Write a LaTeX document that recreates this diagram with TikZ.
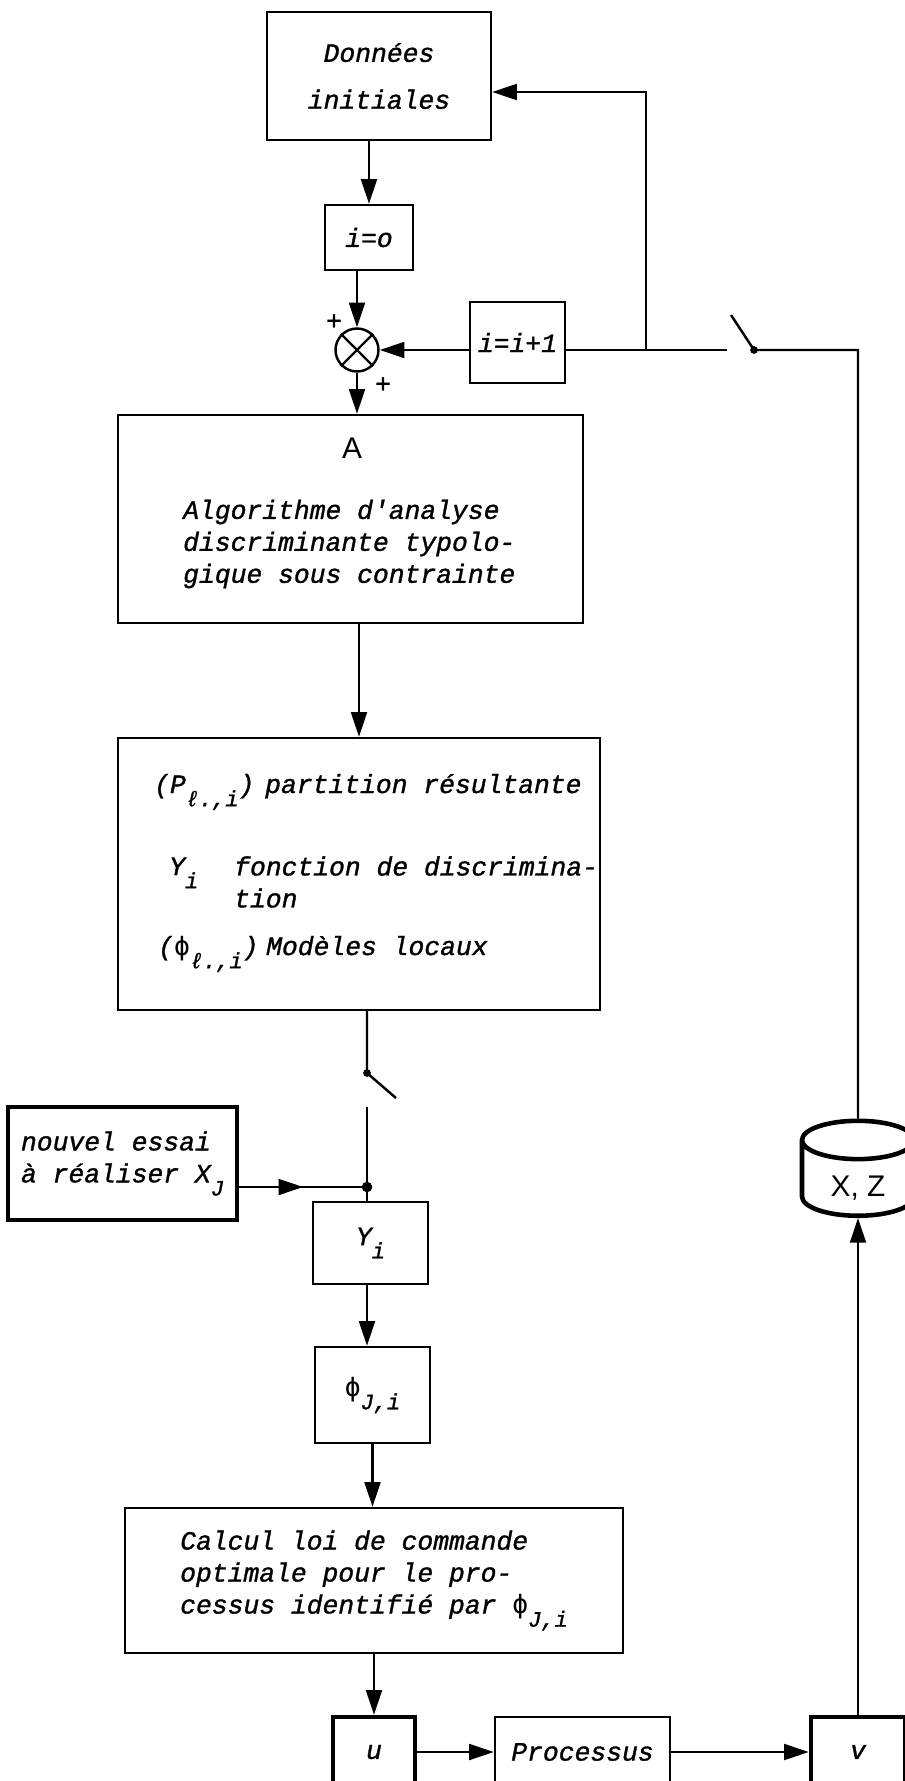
\documentclass[tikz,border=0pt]{standalone}
\usepackage{fontspec}
\setmonofont{Liberation Mono}[ItalicFeatures={FakeBold=1.2}]
\newfontfamily\lsans{Liberation Sans}
\newfontfamily\dvmono{DejaVu Sans Mono}
\usetikzlibrary{
  arrows.meta,
  shapes.geometric,
  decorations.markings
}
\newcommand\boxfont{\fontsize{15}{18.2}\selectfont\ttfamily\itshape}
\newcommand\lowidx[1]{\raisebox{-0.5em}{\fontsize{12.5}{14}\selectfont#1}}
\newcommand\phisym{{\dvmono\upshape ϕ}}
\tikzset{
  >={Triangle[length=14pt,width=9pt]},
  line cap=round,
  every picture/.style={line width=1.4pt},
  box/.style={draw, align=center, inner sep=0pt, font=\boxfont},
  heavybox/.style={box, line width=2.6pt},
  txt/.style={inner sep=0pt, align=left, font=\boxfont},
  signlabel/.style={inner sep=0pt, font=\fontsize{15}{18}\selectfont\ttfamily\itshape},
  sanslabel/.style={inner sep=0pt, font=\lsans\fontsize{17}{20}\selectfont},
  arrow/.style={->},
  midarrow/.style={postaction={decorate},
    decoration={markings, mark=at position 0.5 with {\arrow{>}}}}
}

\begin{document}
\begin{tikzpicture}[x=0.02cm, y=-0.02cm]
\useasboundingbox (0,0) rectangle (905,1781);

% initialisation
\node[box, minimum width=4.48cm, minimum height=2.56cm] (donnees) at (379,76) {Données\\[8.5pt]initiales};
\node[box, minimum width=1.76cm, minimum height=1.30cm] (io) at (369,237.5) {i=o};
\node[circle, draw, minimum size=0.86cm, inner sep=0pt] (sum) at (357,350) {};
\draw (sum.north east) -- (sum.south west) (sum.north west) -- (sum.south east);
\node[box, minimum width=1.90cm, minimum height=1.62cm] (incr) at (517.5,342.5) {i=i+1};
\node[signlabel] (plusA) at (334,322) {+};
\node[signlabel] (plusB) at (383,385) {+};

% algorithme A
\node[box, minimum width=9.30cm, minimum height=4.16cm] (algo) at (350.5,519) {};
\node[sanslabel] (algoA) at (352,448) {A};
\node[txt, anchor=west] (algotxt) at (182,544) {Algorithme d'analyse\\discriminante typolo-\\gique sous contrainte};

% resultats
\node[box, minimum width=9.64cm, minimum height=5.44cm] (res) at (359,874) {};
\node[txt, anchor=base west] (pl) at (153,793) {(P\lowidx{ℓ.,i})};
\node[txt, anchor=base west] (pltxt) at (264,793) {partition résultante};
\node[txt, anchor=base west] (yl) at (168,875) {Y\lowidx{i}};
\node[txt, anchor=west] (yltxt) at (233,882) {fonction de discrimina-\\tion};
\node[txt, anchor=base west] (phil) at (157,955) {(\phisym\lowidx{ℓ.,i})};
\node[txt, anchor=base west] (philtxt) at (265,955) {Modèles locaux};

% nouvel essai et commande
\node[heavybox, align=left, minimum width=4.58cm, minimum height=2.26cm] (essai) at (122.5,1163.5) {nouvel essai\\à réaliser X\lowidx{J}};
\node[box, minimum width=2.30cm, minimum height=1.64cm] (discr) at (370.5,1243) {Y\lowidx{i}};
\node[box, minimum width=2.30cm, minimum height=1.92cm] (model) at (372.5,1395) {\phisym\lowidx{J,i}};
\node[box, align=left, minimum width=9.96cm, minimum height=2.90cm] (cmd) at (374,1580.5) {Calcul loi de commande\\optimale pour le pro-\\cessus identifié par \phisym\lowidx{J,i}};

% processus
\node[heavybox, minimum width=1.64cm, minimum height=1.40cm] (u) at (374,1752) {u};
\node[box, minimum width=3.50cm, minimum height=1.40cm] (proc) at (582.5,1752) {Processus};
\node[heavybox, minimum width=1.88cm, minimum height=1.40cm] (v) at (858,1752) {v};
\node[cylinder, shape border rotate=90, draw, line width=2.6pt, aspect=0.7,
  minimum width=2.24cm, minimum height=1.9cm, inner sep=0pt,
  sanslabel] (base) at (858,1179) {\raisebox{-0.6em}[0pt][0pt]{X, Z}};

% interrupteurs et jonctions
\coordinate (swA) at (754,350);
\coordinate (swAend) at (731,315);
\coordinate (swAin) at (727,350);
\coordinate (fbk) at (646,350);
\coordinate (fbtop) at (646,92);
\coordinate (swB) at (367,1073);
\coordinate (swBend) at (396,1098);
\coordinate (swBout) at (367,1107);
\coordinate (jct) at (367,1187);

% liaisons
\draw[arrow] (donnees.south -| io.north) -- (io.north);
\draw[arrow] (io.south -| sum.north) -- (sum.north);
\draw[arrow] (incr.west |- sum.east) -- (sum.east);
\draw[arrow] (sum.south) -- (sum.south |- algo.north);
\draw[arrow] (algo.south -| res.north) -- (res.north);
\draw (res.south -| swB) -- (swB) -- (swBend);
\fill (swB) circle (2.2pt);
\draw (swBout) -- (jct) -- (jct |- discr.north);
\fill (jct) circle (3pt);
\draw[midarrow] (essai.east |- jct) -- (jct);
\draw[arrow] (discr.south -| jct) -- (jct |- model.north);
\draw[arrow] (model.south) -- (model.south |- cmd.north);
\draw[arrow] (cmd.south -| u.north) -- (u.north);
\draw[arrow] (u) -- (proc);
\draw[arrow] (proc) -- (v);
\draw[arrow] (v.north) -- (base.south);

% retour
\draw (base.north) -- (base.north |- swA) -- (swA) -- (swAend);
\fill (swA) circle (2.2pt);
\draw (incr.east |- swAin) -- (swAin);
\draw[arrow] (fbk) -- (fbtop) -- (fbtop -| donnees.east);

\end{tikzpicture}
\end{document}
